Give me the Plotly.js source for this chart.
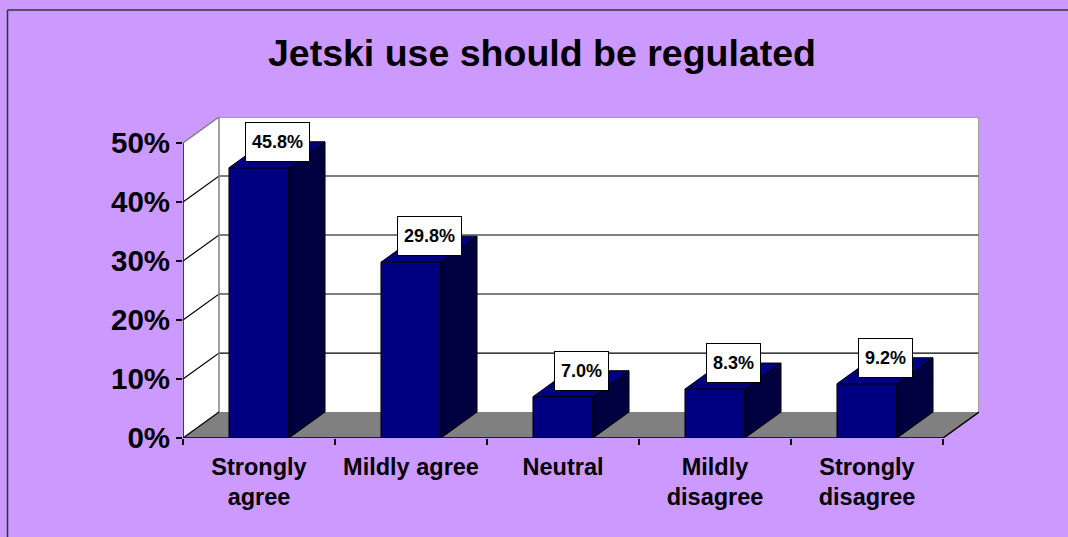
<!DOCTYPE html>
<html>
<head>
<meta charset="utf-8">
<script src="https://cdn.plot.ly/plotly-3.0.1.min.js"></script>
<style>
html, body { margin: 0; padding: 0; background: #CC99FF; overflow: hidden; }
#chart { width: 1068px; height: 537px; }
</style>
</head>
<body>
<div id="chart"></div>
<script>
// ---- data ----
const categories = ["Strongly<br>agree", "Mildly agree", "Neutral", "Mildly<br>disagree", "Strongly<br>disagree"];
const values = [45.8, 29.8, 7.0, 8.3, 9.2];
const valueLabels = ["45.8%", "29.8%", "7.0%", "8.3%", "9.2%"];
const yTickVals = [0, 10, 20, 30, 40, 50];
const yTickText = ["0%", "10%", "20%", "30%", "40%", "50%"];
const chartTitle = "Jetski use should be regulated";

// ---- 3D styling constants (depth offsets in axis units) ----
const DX = 36 / 152;   // depth shift along x (category units)
const DY = 4.4;        // depth shift along y (percent units)
const BW = 0.395;      // bar width (category units)
const YMAX = 50;
const N = categories.length;

const FONT = "Liberation Sans, Arial, Helvetica, sans-serif";
const NARROW = "Liberation Sans Narrow, Arial Narrow, Liberation Sans, Arial, sans-serif";

const traces = [];
function poly(xs, ys, fill, lineColor, lw) {
  const X = xs.concat([xs[0]]), Y = ys.concat([ys[0]]);
  traces.push({
    type: "scatter", x: X, y: Y, mode: "lines", fill: "toself", fillcolor: fill,
    line: { color: lineColor || fill, width: lineColor ? (lw || 1) : 0 },
    hoverinfo: "skip", showlegend: false
  });
}
function seg(xs, ys, color, lw) {
  traces.push({
    type: "scatter", x: xs, y: ys, mode: "lines",
    line: { color: color, width: lw || 1 },
    hoverinfo: "skip", showlegend: false
  });
}

// walls
poly([0, DX, DX, 0], [0, DY, YMAX + DY, YMAX], "#FFFFFF");
poly([DX, N + DX, N + DX, DX], [DY, DY, YMAX + DY, YMAX + DY], "#FFFFFF");
// floor
poly([0, N, N + DX, DX], [0, 0, DY, DY], "#808080");

// gridlines (back wall + left wall)
yTickVals.forEach(v => {
  if (v > 0 && v < YMAX) {
    seg([0, DX, N + DX], [v, v + DY, v + DY], "#000000", 1.2);
  }
});
// wall edges
seg([0, DX, N + DX, N + DX], [YMAX, YMAX + DY, YMAX + DY, DY], "#808080", 1.5);
seg([DX, DX], [DY, YMAX + DY], "#808080", 1.5);
seg([DX, 0], [DY, 0], "#000000", 1.2);
// axis lines
seg([0, 0], [0, YMAX], "#000000", 1.5);
seg([0, N, N + DX], [0, 0, DY], "#000000", 1.5);

// bars
values.forEach((v, i) => {
  const x0 = i + 0.5 - BW / 2, x1 = i + 0.5 + BW / 2;
  poly([x0, x1, x1, x0], [0, 0, v, v], "#000080", "#000000", 1);
  poly([x1, x1 + DX, x1 + DX, x1], [0, DY, v + DY, v], "#000040", "#000000", 1);
  poly([x0, x1, x1 + DX, x0 + DX], [v, v, v + DY, v + DY], "#000080", "#000000", 1);
});

// invisible trace for the tick axis
traces.push({ type: "scatter", x: [0], y: [0], xaxis: "x2", mode: "none", hoverinfo: "skip", showlegend: false });

const annotations = values.map((v, i) => ({
  x: i + 0.5 + DX / 2, y: v + DY / 2, xref: "x", yref: "y",
  yshift: 13, showarrow: false, text: valueLabels[i],
  font: { family: NARROW, size: 18, color: "#000", weight: "bold" },
  bgcolor: "#FFFFFF", bordercolor: "#000000", borderwidth: 1, borderpad: 6, height: 26
}));

const L = 183, R = 1068 - Math.round(183 + (N + DX) * 152), T = 117, B = 99;
const plotW = 1068 - L - R, plotH = 537 - T - B;
const px2x = p => (p - L) / plotW;
const py2y = p => (537 - B - p) / plotH;

const layout = {
  width: 1068, height: 537,
  margin: { l: L, r: R, t: T, b: B, pad: 0 },
  paper_bgcolor: "#CC99FF",
  plot_bgcolor: "rgba(0,0,0,0)",
  title: {
    text: chartTitle, x: 542 / 1068, xanchor: "center", xref: "container",
    y: 1 - 53 / 537, yanchor: "middle", yref: "container",
    font: { family: FONT, size: 37.5, color: "#000", weight: "bold" }
  },
  xaxis: {
    range: [0, N + DX], tickvals: categories.map((c, i) => i + 0.5), ticktext: categories,
    ticks: "", showgrid: false, zeroline: false, showline: false, fixedrange: true,
    ticklabelstandoff: 12,
    tickfont: { family: FONT, size: 23.5, color: "#000", weight: "bold" }
  },
  xaxis2: {
    overlaying: "x", anchor: "y", side: "bottom", range: [0, N + DX],
    tickvals: categories.map((c, i) => i).concat([N]), ticks: "outside", ticklen: 6,
    tickcolor: "#000", tickwidth: 1.5, showticklabels: false,
    showgrid: false, zeroline: false, showline: false, fixedrange: true
  },
  yaxis: {
    range: [0, YMAX + DY], tickvals: yTickVals, ticktext: yTickText,
    ticks: "outside", ticklen: 6, tickcolor: "#000", tickwidth: 1.5,
    showgrid: false, zeroline: false, showline: false, fixedrange: true,
    tickfont: { family: FONT, size: 29.5, color: "#000", weight: "bold" }
  },
  annotations: annotations,
  shapes: [
    { type: "line", xref: "paper", yref: "paper", x0: px2x(7.5), x1: px2x(7.5), y0: py2y(10), y1: py2y(537),
      line: { color: "#333333", width: 1.5 }, layer: "below" },
    { type: "line", xref: "paper", yref: "paper", x0: px2x(7.5), x1: px2x(1068), y0: py2y(10), y1: py2y(10),
      line: { color: "#333333", width: 1.5 }, layer: "below" }
  ],
  showlegend: false
};

Plotly.newPlot("chart", traces, layout, { staticPlot: true, displayModeBar: false });
</script>
</body>
</html>
